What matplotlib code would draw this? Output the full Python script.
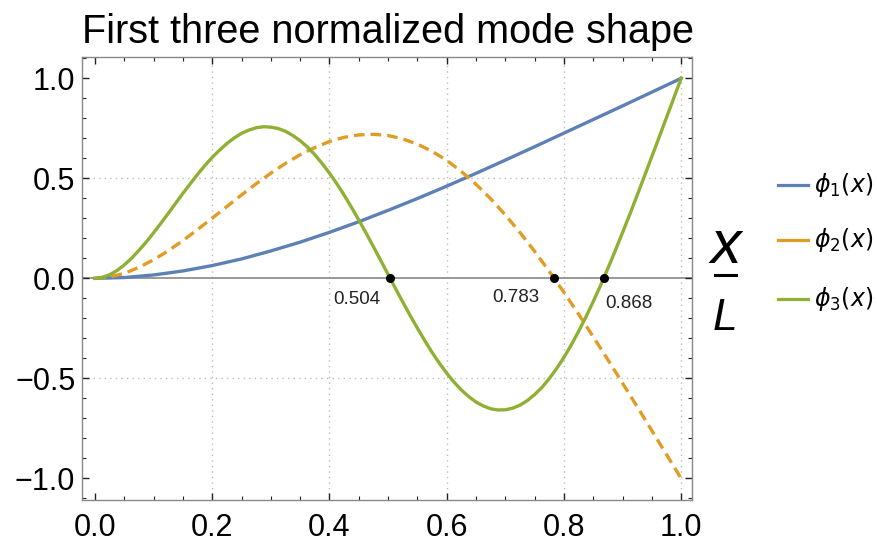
import matplotlib
matplotlib.use("Agg")
import numpy as np
import matplotlib.pyplot as plt
from matplotlib.lines import Line2D
from matplotlib.ticker import MultipleLocator

# values (sample positions along x/L)
x_phi1 = np.linspace(0, 1, 21)
x_phi2 = np.linspace(0, 1, 41)
x_phi3 = np.linspace(0, 1, 81)

phi1 = [0.000, 0.004, 0.017, 0.037, 0.064, 0.097, 0.137, 0.181, 0.230, 0.283, 0.340,
        0.399, 0.461, 0.525, 0.591, 0.658, 0.726, 0.794, 0.862, 0.931, 1.000]
phi2 = [0.000, 0.007, 0.025, 0.055, 0.093, 0.138, 0.189, 0.244, 0.301, 0.359,
        0.417, 0.473, 0.526, 0.575, 0.618, 0.654, 0.684, 0.705, 0.717, 0.720,
        0.714, 0.697, 0.671, 0.635, 0.590, 0.534, 0.470, 0.398, 0.317, 0.229,
        0.135, 0.035, -0.070, -0.179, -0.292, -0.407, -0.524, -0.642, -0.761, -0.881,
        -1.000]
phi3 = [0.000, 0.005, 0.018, 0.039, 0.067, 0.101, 0.140, 0.182, 0.228, 0.276,
        0.325, 0.375, 0.425, 0.473, 0.520, 0.564, 0.605, 0.641, 0.674, 0.702,
        0.725, 0.741, 0.753, 0.758, 0.756, 0.749, 0.735, 0.714, 0.688, 0.656,
        0.618, 0.574, 0.526, 0.473, 0.416, 0.355, 0.292, 0.226, 0.158, 0.089,
        0.020, -0.050, -0.118, -0.185, -0.249, -0.311, -0.370, -0.424, -0.474, -0.519,
        -0.558, -0.591, -0.618, -0.638, -0.652, -0.658, -0.657, -0.649, -0.634, -0.611,
        -0.581, -0.545, -0.501, -0.451, -0.395, -0.333, -0.265, -0.193, -0.116, -0.035,
        0.050, 0.138, 0.229, 0.321, 0.416, 0.512, 0.609, 0.706, 0.804, 0.902,
        1.000]

node_x = [0.504, 0.783, 0.868]
node_labels = ["0.504", "0.783", "0.868"]
node_label_pos = [(0.447, -0.104), (0.718, -0.094), (0.911, -0.128)]

labels = [r"$\phi_1(x)$", r"$\phi_2(x)$", r"$\phi_3(x)$"]
colors = ["#5E81B5", "#E19C24", "#8FB032"]

plt.rcParams['font.family'] = ['Liberation Sans', 'DejaVu Sans']
plt.rcParams['mathtext.fontset'] = 'custom'
plt.rcParams['mathtext.it'] = 'DejaVu Sans:italic'
plt.rcParams['mathtext.rm'] = 'DejaVu Sans'

W, H = 877, 548
fig = plt.figure(figsize=(W / 100, H / 100), dpi=100)
ax = fig.add_axes([82.3 / W, 1 - 500 / H, (692.3 - 82.3) / W, (500 - 56.7) / H])

# grid + axis line
for gx in [0.2, 0.4, 0.6, 0.8, 1.0]:
    ax.axvline(gx, color="#bbbbbb", lw=1.0, ls=(0, (1, 3)), zorder=0)
for gy in [-0.5, 0.5]:
    ax.axhline(gy, color="#bbbbbb", lw=1.0, ls=(0, (1, 3)), zorder=0)
ax.axhline(0, color="#888888", lw=1.2, zorder=1)

ax.plot(x_phi1, phi1, color=colors[0], lw=2.4, zorder=2)
ax.plot(x_phi2, phi2, color=colors[1], lw=2.4, ls=(0, (3.2, 1.8)), zorder=3)
ax.plot(x_phi3, phi3, color=colors[2], lw=2.4, zorder=4)

ax.plot(node_x, [0] * len(node_x), 'o', color='k', ms=5.5, zorder=5)
for lab, (tx, ty) in zip(node_labels, node_label_pos):
    ax.text(tx, ty, lab, fontsize=13.5, ha='center', va='center', color='#222222')

ax.set_xlim(-0.0217, 1.019)
ax.set_ylim(-1.108, 1.108)
ax.xaxis.set_major_locator(MultipleLocator(0.2))
ax.xaxis.set_minor_locator(MultipleLocator(0.05))
ax.yaxis.set_major_locator(MultipleLocator(0.5))
ax.yaxis.set_minor_locator(MultipleLocator(0.1))
ax.tick_params(which='both', direction='in', top=True, right=True, color='#222222')
ax.tick_params(which='major', length=5, width=1.0, labelsize=22)
ax.tick_params(which='minor', length=3, width=0.8)
ax.tick_params(axis='x', pad=9)
ax.tick_params(axis='y', pad=5)
for sp in ax.spines.values():
    sp.set_color('#888888')
    sp.set_linewidth(1.0)

fig.text(82 / W, 1 - 43 / H, "First three normalized mode shape", fontsize=28.5,
         ha='left', va='baseline')

# x/L axis label
fig.text(725.5 / W, 1 - 263 / H, "x", fontsize=44, style='italic',
         ha='center', va='baseline')
fig.add_artist(Line2D([715 / W, 736 / W], [1 - 275 / H, 1 - 275 / H], color='k', lw=2.2))
fig.text(725.5 / W, 1 - 330 / H, "L", fontsize=32, style='italic',
         ha='center', va='baseline')

# legend
for lab, c, yy in zip(labels, colors, [184.5, 240, 299]):
    fig.add_artist(Line2D([778 / W, 808 / W], [1 - yy / H, 1 - yy / H], color=c, lw=2.3))
    fig.text(814 / W, 1 - yy / H, lab, fontsize=17, ha='left', va='center')

fig.savefig("out.png", dpi=100)
